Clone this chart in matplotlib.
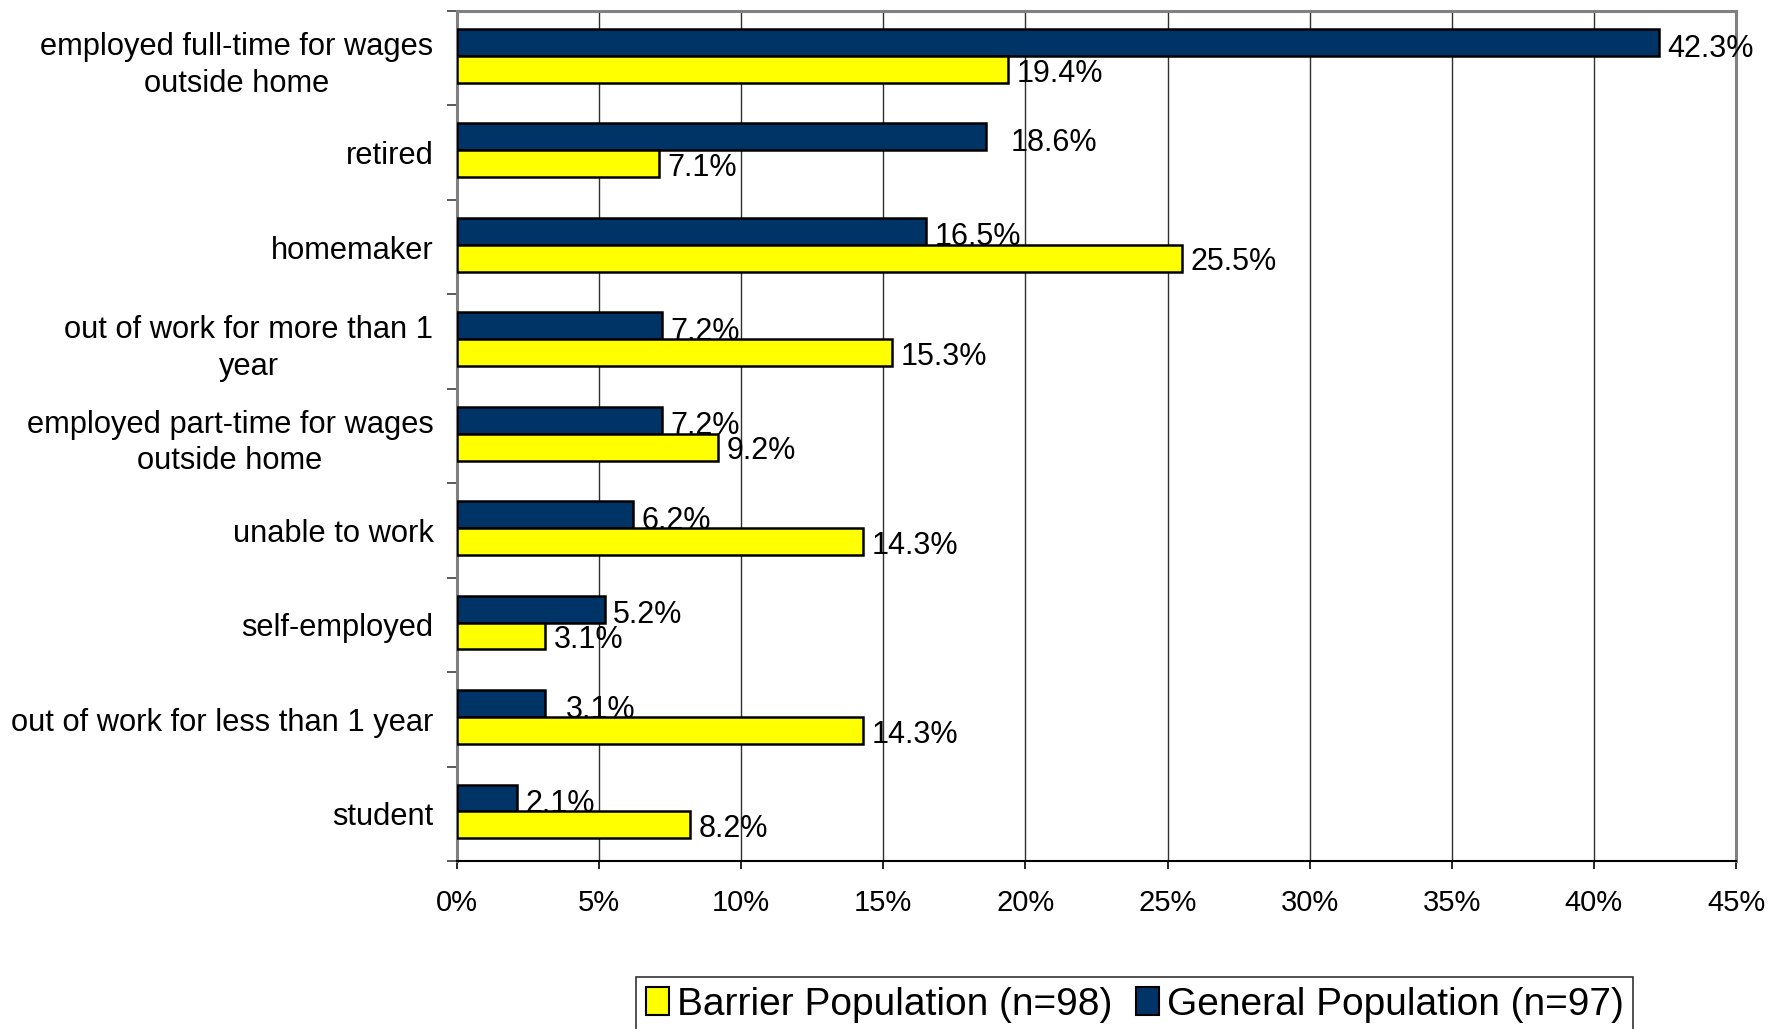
import numpy as np
import matplotlib
matplotlib.use("Agg")
from matplotlib import pyplot as plt
from matplotlib.patches import Patch

plt.rcParams['font.family'] = ['Liberation Sans', 'DejaVu Sans']

CATEGORIES = [
    "employed full-time for wages\noutside home",
    "retired",
    "homemaker",
    "out of work for more than 1\nyear",
    "employed part-time for wages\noutside home",
    "unable to work",
    "self-employed",
    "out of work for less than 1 year",
    "student",
]
GENERAL = [42.3, 18.6, 16.5, 7.2, 7.2, 6.2, 5.2, 3.1, 2.1]
BARRIER = [19.4, 7.1, 25.5, 15.3, 9.2, 14.3, 3.1, 14.3, 8.2]
XTICKS = [0, 5, 10, 15, 20, 25, 30, 35, 40, 45]

NAVY = "#003366"
YELLOW = "#ffff00"

fig = plt.figure(figsize=(17.81, 10.29), dpi=100)
ax = fig.add_axes([457 / 1781, 1 - 861 / 1029, (1736 - 457) / 1781, (861 - 11) / 1029])

y = np.arange(len(CATEGORIES))
h = 0.285

ax.barh(y - h / 2 - 0.025, GENERAL, height=h, color=NAVY, edgecolor="black", linewidth=1.8, zorder=3)
ax.barh(y + h / 2 - 0.025, BARRIER, height=h, color=YELLOW, edgecolor="black", linewidth=1.8, zorder=3)

# value labels, a couple sit a bit further out in the original
extra_gen = {1: 12, 7: 9}
for i, v in enumerate(GENERAL):
    ax.annotate(f"{v:.1f}%", (v, y[i] - h / 2 + 0.04), xytext=(6 + extra_gen.get(i, 0), 0),
                textcoords="offset points", va="center", ha="left", fontsize=22, zorder=4)
for i, v in enumerate(BARRIER):
    ax.annotate(f"{v:.1f}%", (v, y[i] + h / 2 + 0.02), xytext=(6, 0),
                textcoords="offset points", va="center", ha="left", fontsize=22, zorder=4)

ax.set_xlim(0, 45)
ax.set_ylim(len(CATEGORIES) - 0.5, -0.5)

ax.set_xticks(XTICKS)
ax.set_xticklabels([f"{t}%" for t in XTICKS], fontsize=21)
ax.tick_params(axis="x", length=6, width=1.2, direction="out", pad=14, color="black")

ax.set_yticks(y)
ax.set_yticklabels(CATEGORIES, fontsize=22.2, multialignment="center", linespacing=1.3)
ax.tick_params(axis="y", which="major", length=0, pad=17)
ax.set_yticks(np.arange(len(CATEGORIES) + 1) - 0.5, minor=True)
ax.tick_params(axis="y", which="minor", length=7, width=1.2, color="#404040", direction="out")

ax.grid(axis="x", color="#303030", linewidth=1.0, zorder=0)
ax.set_axisbelow(True)

for s in ["left", "top", "right"]:
    ax.spines[s].set_color("#808080")
    ax.spines[s].set_linewidth(2.2)
ax.spines["bottom"].set_color("black")
ax.spines["bottom"].set_linewidth(1.5)

handles = [
    Patch(facecolor=YELLOW, edgecolor="black", linewidth=1.5, label="Barrier Population (n=98)"),
    Patch(facecolor=NAVY, edgecolor="black", linewidth=1.5, label="General Population (n=97)"),
]
fig.legend(handles=handles, loc="upper left", bbox_to_anchor=(636 / 1781, 1 - 977 / 1029),
           ncol=2, fontsize=28, frameon=True, fancybox=False, edgecolor="black",
           handlelength=0.6, handleheight=0.75, handletextpad=0.2, columnspacing=0.6,
           borderpad=0.25, borderaxespad=0).get_frame().set_linewidth(1.2)

fig.savefig("out.png", dpi=100)
